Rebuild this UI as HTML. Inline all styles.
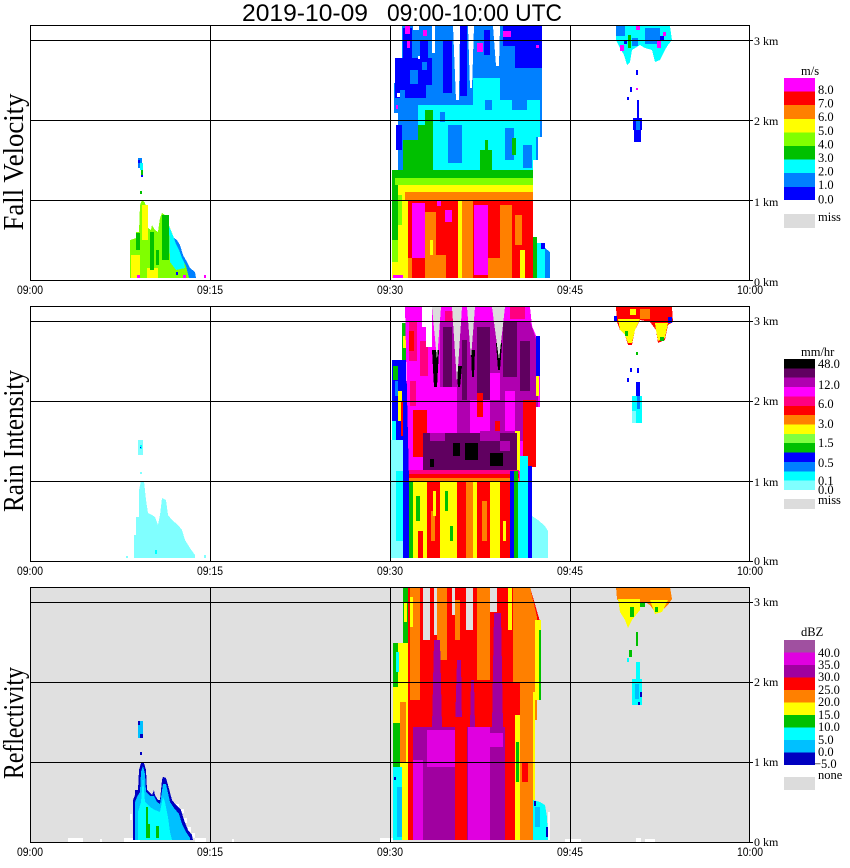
<!DOCTYPE html>
<html><head><meta charset="utf-8"><style>
html,body{margin:0;padding:0;background:#fff;}
svg{display:block;}
</style></head><body>
<svg width="850" height="868" viewBox="0 0 850 868" xmlns="http://www.w3.org/2000/svg" shape-rendering="crispEdges" font-family="'Liberation Serif', serif">
<rect width="850" height="868" fill="#fff"/>
<text font-family="'Liberation Sans', sans-serif" x="242" y="21" font-size="24" textLength="126" lengthAdjust="spacingAndGlyphs">2019-10-09</text>
<text font-family="'Liberation Sans', sans-serif" x="387" y="21" font-size="24" textLength="175" lengthAdjust="spacingAndGlyphs">09:00-10:00 UTC</text>

<!-- ================= PANEL 1 ================= -->
<g>
<polygon fill="#0080ff" points="402,26 532,26 540,38 542,53 542,137 538,137 538,160 533,160 533,170 398,170 398,113 394,113 394,83 402,83"/>
<g fill="#0000ff">
<rect x="395" y="58" width="37" height="40"/>
<rect x="403" y="28" width="9" height="30"/>
<rect x="443" y="40" width="9" height="53"/>
<rect x="460" y="26" width="7" height="70"/>
<rect x="503" y="26" width="39" height="20"/>
<rect x="515" y="46" width="27" height="22"/>
<rect x="396" y="125" width="6" height="25"/>
<rect x="420" y="40" width="8" height="18"/>
<rect x="484" y="30" width="6" height="25"/>
</g>
<g fill="#0080ff">
<rect x="410" y="70" width="8" height="14"/>
<rect x="422" y="62" width="5" height="8"/>
<rect x="400" y="90" width="5" height="8"/>
<rect x="426" y="85" width="6" height="13"/>
</g>
<g fill="#fff">
<rect x="432" y="26" width="3" height="27"/>
<polygon points="453,26 460,26 459,100 456,100"/>
<polygon points="468,26 474,26 472,88 470,88"/>
<polygon points="493,26 500,26 499,66 496,66"/>
<rect x="413" y="26" width="6" height="4"/>
<rect x="397" y="93" width="3" height="4"/>
<rect x="418" y="56" width="2" height="3"/>
</g>
<g fill="#ff00ff">
<rect x="405" y="26" width="5" height="8"/>
<rect x="407" y="40" width="3" height="8"/>
<rect x="477" y="43" width="6" height="9"/>
<rect x="503" y="31" width="8" height="6"/>
<rect x="423" y="30" width="4" height="6"/>
<rect x="536" y="45" width="3" height="3"/>
<rect x="396" y="105" width="2" height="4"/>
</g>
<polygon fill="#00ffff" points="418,105 473,105 473,78 500,78 500,100 540,100 540,137 536,137 536,160 533,160 533,170 418,170"/>
<g fill="#0080ff">
<rect x="448" y="125" width="14" height="38"/>
<rect x="505" y="128" width="9" height="32"/>
<rect x="523" y="145" width="9" height="23"/>
<rect x="485" y="100" width="7" height="10"/>
<rect x="440" y="112" width="5" height="10"/>
<rect x="512" y="100" width="15" height="10"/>
</g>
<g fill="#00c000">
<polygon points="425,110 433,110 433,172 418,172 418,125 425,125"/>
<rect x="403" y="140" width="15" height="32"/>
<rect x="480" y="150" width="12" height="22"/>
<rect x="485" y="140" width="3" height="10"/>
<rect x="512" y="138" width="4" height="17"/>
<rect x="392" y="170" width="141" height="8"/>
<rect x="392" y="178" width="6" height="62"/>
</g>
<rect x="395" y="178" width="138" height="7" fill="#80ff00"/>
<rect x="392" y="240" width="6" height="22" fill="#80ff00"/>
<rect x="398" y="185" width="135" height="7" fill="#ffff00"/>
<rect x="392" y="262" width="6" height="16" fill="#ffff00"/>
<rect x="398" y="192" width="10" height="86" fill="#ffff00"/>
<rect x="398" y="195" width="4" height="30" fill="#80ff00"/>
<rect x="405" y="192" width="128" height="8" fill="#ff8000"/>
<rect x="408" y="200" width="125" height="78" fill="#ff0000"/>
<g fill="#ff00ff">
<rect x="412" y="203" width="13" height="55"/>
<rect x="474" y="205" width="14" height="70"/>
<rect x="445" y="210" width="7" height="12"/>
<rect x="437" y="200" width="4" height="6"/>
<rect x="393" y="275" width="10" height="3"/>
</g>
<g fill="#ff8000">
<rect x="425" y="212" width="11" height="66"/>
<rect x="462" y="200" width="11" height="78"/>
<rect x="500" y="205" width="12" height="73"/>
<rect x="436" y="255" width="10" height="23"/>
<rect x="488" y="258" width="12" height="20"/>
<rect x="515" y="215" width="7" height="30"/>
<rect x="408" y="258" width="4" height="20"/>
</g>
<g fill="#ffff00">
<rect x="458" y="200" width="4" height="78"/>
<rect x="520" y="250" width="5" height="28"/>
<rect x="430" y="240" width="3" height="15"/>
</g>
<rect x="533" y="237" width="4" height="41" fill="#00c000"/>
<rect x="537" y="243" width="8" height="35" fill="#00ffff"/>
<polygon fill="#0080ff" points="545,248 550,252 550,278 545,278"/>
<rect x="541" y="243" width="4" height="6" fill="#0000ff"/>

<!-- small storm p1 -->
<polygon fill="#80ff00" points="130,278 130,240 136,238 136,232 139,232 140,205 142,200 145,203 147,210 148,228 151,230 152,225 155,230 158,232 160,218 162,213 165,215 167,220 170,228 174,238 177,240 180,245 183,255 187,262 190,268 195,272 196,278"/>
<g fill="#ffff00">
<rect x="142" y="205" width="6" height="35"/>
<rect x="131" y="255" width="9" height="23"/>
<rect x="147" y="268" width="11" height="10"/>
</g>
<g fill="#00c000">
<rect x="136" y="233" width="4" height="17"/>
<rect x="150" y="232" width="4" height="38"/>
<rect x="162" y="215" width="7" height="45"/>
<rect x="156" y="250" width="3" height="15"/>
</g>
<polygon fill="#00ffff" points="169,226 174,238 177,240 180,245 183,255 185,268 176,270 170,262"/>
<polygon fill="#0080ff" points="174,238 177,240 180,245 183,255 187,262 190,268 195,272 196,278 189,278 186,266 182,258 179,250 176,244"/>
<rect x="138" y="158" width="4" height="10" fill="#0080ff"/>
<rect x="140" y="163" width="3" height="7" fill="#00ffff"/>
<rect x="141" y="170" width="2" height="5" fill="#00c000"/>
<rect x="138" y="160" width="2" height="3" fill="#0000ff"/>
<rect x="141" y="175" width="2" height="2" fill="#0000ff"/>
<rect x="140" y="191" width="2" height="3" fill="#00c000"/>
<rect x="137" y="275" width="3" height="3" fill="#ff00ff"/>
<rect x="183" y="275" width="3" height="3" fill="#ff00ff"/>
<rect x="204" y="275" width="2" height="3" fill="#ff00ff"/>
<rect x="176" y="272" width="2" height="3" fill="#0000ff"/>

<!-- second storm p1 -->
<polygon fill="#00ffff" points="616,26 670,26 672,40 668,45 665,50 660,60 655,62 652,50 645,48 640,45 632,50 630,62 627,65 624,55 620,48 616,40"/>
<g fill="#0080ff">
<rect x="616" y="26" width="9" height="10"/>
<rect x="645" y="28" width="15" height="16"/>
<rect x="632" y="38" width="6" height="8"/>
</g>
<rect x="628" y="35" width="3" height="13" fill="#00c000"/>
<g fill="#ff00ff">
<rect x="620" y="45" width="4" height="6"/>
<rect x="657" y="40" width="4" height="8"/>
<rect x="636" y="26" width="4" height="4"/>
<rect x="663" y="32" width="3" height="4"/>
<rect x="636" y="88" width="2" height="2"/>
</g>
<g fill="#0000ff">
<rect x="660" y="36" width="4" height="4"/>
<rect x="624" y="40" width="3" height="4"/>
<rect x="636" y="70" width="2" height="5"/>
<rect x="630" y="87" width="2" height="5"/>
<rect x="627" y="97" width="2" height="3"/>
<rect x="637" y="100" width="2" height="18"/>
<rect x="633" y="118" width="9" height="12"/>
<rect x="634" y="130" width="7" height="12"/>
</g>
<rect x="636" y="120" width="4" height="10" fill="#0080ff"/>

<!-- axes p1 -->
<g fill="none" stroke="#000" stroke-width="1">
<path d="M30 40.5H753M30 120.5H753M30 200.5H753M749 280.5H753M210.5 25V280M390.5 25V280M570.5 25V280"/>
<rect x="30.5" y="25.5" width="719" height="255"/>
</g>
<g font-size="12">
<text x="754" y="45">3 km</text>
<text x="754" y="125">2 km</text>
<text x="754" y="206">1 km</text>
<text x="754" y="286">0 km</text>
</g>
<g font-family="'Liberation Sans', sans-serif" font-size="12" text-anchor="middle">
<text x="30" y="294" textLength="26" lengthAdjust="spacingAndGlyphs">09:00</text>
<text x="210" y="294" textLength="26" lengthAdjust="spacingAndGlyphs">09:15</text>
<text x="390" y="294" textLength="26" lengthAdjust="spacingAndGlyphs">09:30</text>
<text x="570" y="294" textLength="26" lengthAdjust="spacingAndGlyphs">09:45</text>
<text x="750" y="294" textLength="26" lengthAdjust="spacingAndGlyphs">10:00</text>
</g>
<text transform="translate(23,162) rotate(-90)" text-anchor="middle" font-size="29" textLength="137" lengthAdjust="spacingAndGlyphs">Fall Velocity</text>
<!-- colorbar p1 -->
<rect x="784" y="78" width="31" height="14" fill="#ff00ff"/>
<rect x="784" y="91.6" width="31" height="14" fill="#ff0000"/>
<rect x="784" y="105.2" width="31" height="14" fill="#ff8000"/>
<rect x="784" y="118.8" width="31" height="14" fill="#ffff00"/>
<rect x="784" y="132.4" width="31" height="14" fill="#80ff00"/>
<rect x="784" y="146" width="31" height="14" fill="#00c000"/>
<rect x="784" y="159.6" width="31" height="14" fill="#00ffff"/>
<rect x="784" y="173.2" width="31" height="14" fill="#0080ff"/>
<rect x="784" y="186.8" width="31" height="13.2" fill="#0000ff"/>
<rect x="784" y="214" width="31" height="14" fill="#dcdcdc"/>
<g font-size="12.5">
<text x="801" y="75">m/s</text>
<text x="818" y="94">8.0</text>
<text x="818" y="107.6">7.0</text>
<text x="818" y="121.2">6.0</text>
<text x="818" y="134.8">5.0</text>
<text x="818" y="148.4">4.0</text>
<text x="818" y="162">3.0</text>
<text x="818" y="175.6">2.0</text>
<text x="818" y="189.2">1.0</text>
<text x="818" y="203.5">0.0</text>
<text x="818" y="221">miss</text>
</g>
</g>

<!-- ================= PANEL 2 ================= -->
<g transform="translate(0,281)">
<rect x="390" y="159" width="16" height="118" fill="#80ffff"/>
<rect x="396" y="190" width="7" height="70" fill="#00ffff"/>
<rect x="392" y="79" width="14" height="80" fill="#0000ff"/>
<rect x="393" y="85" width="5" height="14" fill="#00c000"/>
<rect x="398" y="110" width="4" height="30" fill="#ffff00"/>
<rect x="401" y="120" width="5" height="35" fill="#ff0000"/>
<rect x="392" y="140" width="4" height="19" fill="#00ffff"/>
<rect x="395" y="100" width="3" height="15" fill="#0080ff"/>
<rect x="402" y="42" width="5" height="37" fill="#00c000"/>
<rect x="403" y="55" width="3" height="12" fill="#ffff00"/>
<rect x="403" y="100" width="6" height="177" fill="#0000ff"/>
<polygon fill="#ff00ff" points="405,26 530,26 532,45 540,64 540,126 536,126 536,152 530,152 530,200 409,200"/>
<g fill="#ff0080">
<rect x="409" y="40" width="8" height="40"/>
<rect x="420" y="60" width="8" height="35"/>
<rect x="410" y="100" width="6" height="25"/>
</g>
<rect x="413" y="129" width="14" height="47" fill="#ff0000"/>
<rect x="409" y="50" width="5" height="20" fill="#ff0000"/>
<polygon fill="#b000b0" points="440,40 530,40 538,64 538,126 523,126 523,160 440,160"/>
<g fill="#600060">
<rect x="443" y="46" width="9" height="73"/>
<rect x="462" y="59" width="5" height="60"/>
<rect x="477" y="46" width="13" height="73"/>
<rect x="503" y="36" width="14" height="60"/>
<rect x="520" y="60" width="10" height="50"/>
</g>
<g fill="#ff00ff">
<rect x="440" y="106" width="17" height="53"/>
<rect x="470" y="119" width="20" height="40"/>
<rect x="490" y="92" width="10" height="27"/>
<rect x="440" y="26" width="90" height="14"/>
<rect x="505" y="110" width="10" height="40"/>
</g>
<g fill="#ff0000">
<rect x="477" y="112" width="6" height="24"/>
<rect x="523" y="119" width="13" height="67"/>
<rect x="495" y="140" width="5" height="15"/>
</g>
<g fill="#ff0080">
<rect x="510" y="26" width="15" height="12"/>
<rect x="445" y="30" width="8" height="10"/>
</g>
<rect x="515" y="150" width="5" height="40" fill="#ffff00"/>
<rect x="520" y="175" width="8" height="25" fill="#00ffff"/>
<rect x="536" y="55" width="4" height="40" fill="#0000ff"/>
<rect x="536" y="95" width="3" height="20" fill="#ffff00"/>
<g fill="#fff">
<rect x="422" y="26" width="10" height="20"/>
<rect x="426" y="46" width="6" height="20"/>
</g>
<g fill="#000">
<polygon points="432,69 439,69 437,106 434,106"/>
<polygon points="456,85 462,85 460,106 458,106"/>
<polygon points="471,69 475,69 474,96 472,96"/>
<polygon points="496,62 502,62 500,89 498,89"/>
</g>
<g fill="#dcdcdc">
<polygon points="432,26 441,26 437,79"/>
<polygon points="452,26 462,26 457,102"/>
<polygon points="467,26 475,26 471,77"/>
<polygon points="492,26 505,26 499,79"/>
</g>
<rect x="423" y="152" width="94" height="37" fill="#600060"/>
<g fill="#b000b0">
<rect x="480" y="150" width="20" height="10"/>
<rect x="430" y="152" width="15" height="8"/>
<rect x="500" y="160" width="10" height="10"/>
</g>
<g fill="#000">
<rect x="453" y="162" width="7" height="13"/>
<rect x="465" y="162" width="13" height="17"/>
<rect x="490" y="172" width="13" height="13"/>
<rect x="430" y="178" width="4" height="8"/>
</g>
<rect x="409" y="189" width="110" height="4" fill="#ff0080"/>
<rect x="409" y="193" width="110" height="4" fill="#ff0000"/>
<rect x="409" y="197" width="110" height="4" fill="#ff8000"/>
<rect x="409" y="201" width="103" height="76" fill="#ffff00"/>
<rect x="409" y="201" width="4" height="76" fill="#00c000"/>
<g fill="#00c000">
<rect x="416" y="215" width="4" height="25"/>
<rect x="445" y="210" width="3" height="20"/>
<rect x="450" y="245" width="3" height="15"/>
</g>
<g fill="#ff0000">
<rect x="427" y="201" width="13" height="76"/>
<rect x="457" y="201" width="9" height="76"/>
<rect x="477" y="201" width="13" height="76"/>
<rect x="500" y="201" width="10" height="76"/>
<rect x="418" y="250" width="5" height="27"/>
</g>
<g fill="#ff8000">
<rect x="466" y="201" width="7" height="76"/>
<rect x="482" y="220" width="5" height="40"/>
<rect x="431" y="230" width="4" height="30"/>
</g>
<g fill="#ffff00">
<rect x="433" y="210" width="3" height="25"/>
<rect x="503" y="240" width="3" height="20"/>
</g>
<rect x="510" y="190" width="4" height="87" fill="#0000ff"/>
<rect x="514" y="190" width="4" height="87" fill="#00c000"/>
<rect x="518" y="200" width="10" height="77" fill="#00ffff"/>
<rect x="528" y="185" width="4" height="92" fill="#0000ff"/>
<polygon fill="#80ffff" points="532,235 538,239 545,245 548,250 548,277 532,277"/>

<!-- small storm p2 -->
<polygon fill="#80ffff" points="134,277 134,254 136,254 136,236 139,236 139,209 141,200 144,200 146,219 148,232 152,234 155,236 158,244 160,234 162,217 166,219 168,234 172,239 178,244 182,249 185,259 190,267 195,274 195,277"/>
<rect x="138" y="159" width="5" height="15" fill="#80ffff"/>
<rect x="140" y="164" width="2" height="4" fill="#00ffff"/>
<rect x="140" y="166" width="1" height="1" fill="#0000ff"/>
<rect x="140" y="191" width="2" height="2" fill="#80ffff"/>
<rect x="155" y="269" width="2" height="4" fill="#00ffff"/>
<rect x="204" y="274" width="2" height="3" fill="#80ffff"/>
<rect x="126" y="275" width="2" height="2" fill="#80ffff"/>

<!-- second storm p2 -->
<polygon fill="#ff0000" points="616,26 672,26 673,41 668,44 665,59 658,62 656,49 650,41 640,39 635,49 632,64 628,64 625,54 620,49 617,41"/>
<g fill="#ffff00">
<polygon points="618,38 640,38 635,49 632,62 628,62 625,54 620,49"/>
<polygon points="655,42 668,42 665,57 658,60 656,49"/>
<rect x="630" y="28" width="6" height="6"/>
</g>
<rect x="640" y="28" width="10" height="10" fill="#ff8000"/>
<g fill="#00c000">
<rect x="625" y="50" width="3" height="5"/>
<rect x="660" y="56" width="4" height="4"/>
<rect x="636" y="71" width="2" height="3"/>
</g>
<g fill="#0000ff">
<rect x="668" y="36" width="4" height="6"/>
<rect x="614" y="35" width="3" height="5"/>
<rect x="630" y="87" width="2" height="4"/>
<rect x="637" y="87" width="2" height="5"/>
<rect x="627" y="97" width="2" height="4"/>
<rect x="636" y="101" width="4" height="18"/>
</g>
<rect x="632" y="115" width="10" height="27" fill="#00ffff"/>
<rect x="632" y="130" width="4" height="12" fill="#80ffff"/>
<rect x="637" y="115" width="3" height="13" fill="#0080ff"/>

<!-- axes p2 -->
<g fill="none" stroke="#000" stroke-width="1">
<path d="M30 40.5H753M30 120.5H753M30 200.5H753M749 280.5H753M210.5 25V280M390.5 25V280M570.5 25V280"/>
<rect x="30.5" y="25.5" width="719" height="255"/>
</g>
<g font-size="12">
<text x="754" y="44">3 km</text>
<text x="754" y="124">2 km</text>
<text x="754" y="205">1 km</text>
<text x="754" y="284">0 km</text>
</g>
<g font-family="'Liberation Sans', sans-serif" font-size="12" text-anchor="middle">
<text x="30" y="294" textLength="26" lengthAdjust="spacingAndGlyphs">09:00</text>
<text x="210" y="294" textLength="26" lengthAdjust="spacingAndGlyphs">09:15</text>
<text x="390" y="294" textLength="26" lengthAdjust="spacingAndGlyphs">09:30</text>
<text x="570" y="294" textLength="26" lengthAdjust="spacingAndGlyphs">09:45</text>
<text x="750" y="294" textLength="26" lengthAdjust="spacingAndGlyphs">10:00</text>
</g>
<text transform="translate(23,160) rotate(-90)" text-anchor="middle" font-size="29" textLength="142" lengthAdjust="spacingAndGlyphs">Rain Intensity</text>
<!-- colorbar p2 -->
<rect x="784" y="78" width="31" height="9.9" fill="#000000"/>
<rect x="784" y="87.4" width="31" height="9.9" fill="#600060"/>
<rect x="784" y="96.7" width="31" height="9.9" fill="#b000b0"/>
<rect x="784" y="106.1" width="31" height="9.9" fill="#ff00ff"/>
<rect x="784" y="115.4" width="31" height="9.9" fill="#ff0080"/>
<rect x="784" y="124.8" width="31" height="9.9" fill="#ff0000"/>
<rect x="784" y="134.2" width="31" height="9.9" fill="#ff8000"/>
<rect x="784" y="143.5" width="31" height="9.9" fill="#ffff00"/>
<rect x="784" y="152.9" width="31" height="9.9" fill="#80ff40"/>
<rect x="784" y="162.2" width="31" height="9.9" fill="#00c000"/>
<rect x="784" y="171.6" width="31" height="9.9" fill="#0000ff"/>
<rect x="784" y="181" width="31" height="9.9" fill="#0080ff"/>
<rect x="784" y="190.3" width="31" height="9.9" fill="#00ffff"/>
<rect x="784" y="199.7" width="31" height="9.3" fill="#80ffff"/>
<rect x="784" y="218" width="31" height="10" fill="#dcdcdc"/>
<g font-size="12.5">
<text x="801" y="75">mm/hr</text>
<text x="818" y="87">48.0</text>
<text x="818" y="108">12.0</text>
<text x="818" y="127">6.0</text>
<text x="818" y="147">3.0</text>
<text x="818" y="166">1.5</text>
<text x="818" y="186">0.5</text>
<text x="818" y="204">0.1</text>
<text x="818" y="213">0.0</text>
<text x="818" y="223">miss</text>
</g>
</g>

<!-- ================= PANEL 3 ================= -->
<g transform="translate(0,562)">
<rect x="30" y="25" width="720" height="255" fill="#e0e0e0"/>
<g fill="#fff">
<rect x="68" y="276" width="15" height="4"/>
<rect x="100" y="277" width="2" height="3"/>
<rect x="124" y="276" width="16" height="4"/>
<rect x="195" y="276" width="11" height="4"/>
<rect x="232" y="277" width="2" height="3"/>
<rect x="380" y="276" width="13" height="4"/>
<rect x="565" y="277" width="16" height="3"/>
<rect x="636" y="276" width="5" height="4"/>
<rect x="645" y="277" width="10" height="3"/>
<rect x="548" y="250" width="2" height="28"/>
<rect x="176" y="242" width="3" height="4"/>
<rect x="181" y="247" width="3" height="4"/>
<rect x="184" y="256" width="3" height="5"/>
<rect x="188" y="265" width="3" height="5"/>
<rect x="192" y="271" width="3" height="5"/>
<rect x="130" y="252" width="2" height="6"/>
</g>
<!-- main p3 -->
<rect x="393" y="81" width="15" height="197" fill="#ffff00"/>
<rect x="393" y="81" width="5" height="44" fill="#00c000"/>
<rect x="396" y="90" width="3" height="20" fill="#00ffff"/>
<rect x="393" y="161" width="7" height="44" fill="#00c000"/>
<rect x="393" y="205" width="9" height="73" fill="#00ffff"/>
<rect x="397" y="225" width="5" height="50" fill="#00c0ff"/>
<rect x="394" y="215" width="2" height="3" fill="#0000c0"/>
<rect x="400" y="140" width="6" height="60" fill="#ff8000"/>
<rect x="403" y="25" width="5" height="56" fill="#00c000"/>
<rect x="404" y="40" width="3" height="20" fill="#ffff00"/>
<polygon fill="#ff0000" points="408,25 530,25 541,63 541,128 535,128 535,158 533,158 533,278 408,278"/>
<g fill="#ff8000">
<rect x="410" y="25" width="10" height="113"/>
<rect x="437" y="25" width="10" height="73"/>
<rect x="455" y="38" width="5" height="40"/>
<rect x="477" y="25" width="13" height="93"/>
<polygon points="513,25 530,25 537,55 537,158 520,158 520,120 513,120"/>
<rect x="520" y="138" width="13" height="140"/>
</g>
<g fill="#ffff00">
<rect x="508" y="25" width="4" height="43"/>
<rect x="535" y="58" width="6" height="80"/>
<rect x="515" y="153" width="5" height="125"/>
<rect x="533" y="130" width="2" height="108"/>
<rect x="410" y="35" width="3" height="30"/>
</g>
<g fill="#00c000">
<rect x="539" y="68" width="2" height="70"/>
<rect x="516" y="180" width="3" height="40"/>
</g>
<g fill="#e0e0e0">
<rect x="423" y="25" width="7" height="53"/>
<rect x="434" y="25" width="3" height="48"/>
<rect x="452" y="25" width="3" height="28"/>
<rect x="466" y="25" width="7" height="43"/>
<rect x="490" y="25" width="7" height="25"/>
</g>
<g fill="#a000a0">
<polygon points="434,78 440,78 442,165 432,165"/>
<polygon points="457,98 461,98 462,165 455,165"/>
<polygon points="471,118 474,118 475,165 470,165"/>
<polygon points="494,51 501,51 503,165 492,165"/>
<rect x="410" y="165" width="102" height="113"/>
</g>
<g fill="#e000e0">
<rect x="413" y="198" width="10" height="80"/>
<rect x="427" y="168" width="28" height="37"/>
<rect x="468" y="165" width="22" height="113"/>
<rect x="490" y="171" width="13" height="14"/>
</g>
<g fill="#ff0000">
<rect x="455" y="155" width="12" height="123"/>
<rect x="408" y="165" width="5" height="113"/>
<rect x="505" y="163" width="10" height="115"/>
<rect x="522" y="200" width="6" height="20"/>
</g>
<polygon fill="#00ffff" points="533,238 540,240 545,243 547,255 548,278 533,278"/>
<rect x="535" y="245" width="5" height="20" fill="#00c0ff"/>
<rect x="534" y="239" width="2" height="5" fill="#0000c0"/>
<rect x="546" y="265" width="2" height="10" fill="#0000c0"/>

<!-- small storm p3 -->
<polygon fill="#0000c0" points="133,278 133,238 135,233 135,228 138,228 139,208 141,201 144,201 146,208 147,228 150,231 152,233 154,228 155,233 158,238 160,238 162,218 163,215 166,216 168,223 172,238 176,243 181,248 184,258 188,268 192,273 193,278"/>
<polygon fill="#00c0ff" points="135,278 135,240 137,235 140,230 141,210 143,204 145,212 146,230 150,234 154,234 157,240 160,242 163,222 166,222 170,240 174,246 179,252 182,262 186,270 190,276 190,278"/>
<polygon fill="#00ffff" points="138,278 138,250 141,240 143,215 145,240 150,245 155,248 160,250 163,235 165,240 168,255 170,270 172,278"/>
<g fill="#00c000">
<rect x="146" y="245" width="2" height="26"/>
<rect x="146" y="262" width="4" height="14"/>
<rect x="156" y="264" width="3" height="12"/>
</g>
<rect x="138" y="159" width="5" height="17" fill="#00c0ff"/>
<rect x="138" y="159" width="2" height="4" fill="#0000c0"/>
<rect x="140" y="172" width="3" height="4" fill="#0000c0"/>
<rect x="140" y="190" width="2" height="3" fill="#0000c0"/>

<!-- second storm p3 -->
<polygon fill="#ff8000" points="616,25 670,25 672,37 668,43 660,50 655,50 650,43 645,40 640,40 635,45 628,50 622,45 617,37"/>
<polygon fill="#ffff00" points="618,37 640,37 640,48 632,58 628,66 625,58 620,50"/>
<polygon fill="#ffff00" points="650,38 668,38 662,50 655,52"/>
<g fill="#00c000">
<rect x="630" y="45" width="4" height="10"/>
<rect x="655" y="45" width="3" height="5"/>
<rect x="640" y="40" width="5" height="5"/>
<rect x="636" y="70" width="2" height="14"/>
<rect x="629" y="88" width="3" height="7"/>
</g>
<rect x="627" y="96" width="2" height="4" fill="#00ffff"/>
<rect x="636" y="100" width="4" height="22" fill="#00ffff"/>
<rect x="632" y="117" width="10" height="26" fill="#00ffff"/>
<rect x="635" y="122" width="4" height="15" fill="#00c0ff"/>
<rect x="640" y="130" width="2" height="5" fill="#0000c0"/>
<rect x="638" y="140" width="2" height="3" fill="#0000c0"/>

<!-- axes p3 -->
<g fill="none" stroke="#000" stroke-width="1">
<path d="M30 40.5H753M30 120.5H753M30 200.5H753M749 280.5H753M210.5 25V280M390.5 25V280M570.5 25V280"/>
<rect x="30.5" y="25.5" width="719" height="255"/>
</g>
<g font-size="12">
<text x="754" y="44">3 km</text>
<text x="754" y="124">2 km</text>
<text x="754" y="204">1 km</text>
<text x="754" y="284">0 km</text>
</g>
<g font-family="'Liberation Sans', sans-serif" font-size="12" text-anchor="middle">
<text x="30" y="294" textLength="26" lengthAdjust="spacingAndGlyphs">09:00</text>
<text x="210" y="294" textLength="26" lengthAdjust="spacingAndGlyphs">09:15</text>
<text x="390" y="294" textLength="26" lengthAdjust="spacingAndGlyphs">09:30</text>
<text x="570" y="294" textLength="26" lengthAdjust="spacingAndGlyphs">09:45</text>
<text x="750" y="294" textLength="26" lengthAdjust="spacingAndGlyphs">10:00</text>
</g>
<text transform="translate(23,161) rotate(-90)" text-anchor="middle" font-size="29" textLength="112" lengthAdjust="spacingAndGlyphs">Reflectivity</text>
<!-- colorbar p3 -->
<rect x="784" y="78" width="31" height="13" fill="#a050a0"/>
<rect x="784" y="90.5" width="31" height="13" fill="#e000e0"/>
<rect x="784" y="103" width="31" height="13" fill="#a000a0"/>
<rect x="784" y="115.5" width="31" height="13" fill="#ff0000"/>
<rect x="784" y="128" width="31" height="13" fill="#ff8000"/>
<rect x="784" y="140.5" width="31" height="13" fill="#ffff00"/>
<rect x="784" y="153" width="31" height="13" fill="#00c000"/>
<rect x="784" y="165.5" width="31" height="13" fill="#00ffff"/>
<rect x="784" y="178" width="31" height="13" fill="#00c0ff"/>
<rect x="784" y="190.5" width="31" height="12.5" fill="#0000c0"/>
<rect x="784" y="215" width="31" height="13" fill="#dcdcdc"/>
<g font-size="12.5">
<text x="801" y="74">dBZ</text>
<text x="818" y="95">40.0</text>
<text x="818" y="107">35.0</text>
<text x="818" y="119">30.0</text>
<text x="818" y="132">25.0</text>
<text x="818" y="144">20.0</text>
<text x="818" y="157">15.0</text>
<text x="818" y="169">10.0</text>
<text x="818" y="182">5.0</text>
<text x="818" y="194">0.0</text>
<text x="814" y="206">−5.0</text>
<text x="818" y="217">none</text>
</g>
</g>
</svg>
</body></html>
